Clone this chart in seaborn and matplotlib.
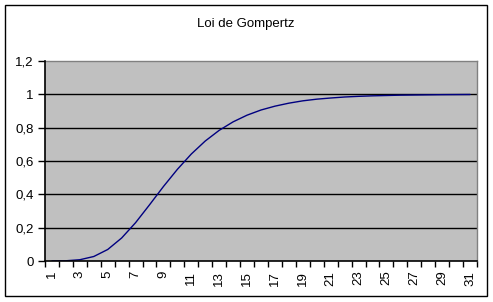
import matplotlib
matplotlib.use("Agg")
import matplotlib.pyplot as plt
from matplotlib.patches import Rectangle
import seaborn as sns
import pandas as pd

categories = list(range(1, 32))
values = [0.0001, 0.0014, 0.0076, 0.027, 0.069, 0.138, 0.230, 0.337, 0.447, 0.550,
          0.642, 0.720, 0.784, 0.835, 0.875, 0.906, 0.929, 0.947, 0.961, 0.971,
          0.978, 0.984, 0.988, 0.991, 0.993, 0.995, 0.996, 0.997, 0.998, 0.9985, 0.999]
y_ticks = [0, 0.2, 0.4, 0.6, 0.8, 1.0, 1.2]
y_labels = ["0", "0,2", "0,4", "0,6", "0,8", "1", "1,2"]
x_labels = [str(c) if c % 2 == 1 else "" for c in categories]
title = "Loi de Gompertz"

sns.set_theme(style="white")
plt.rcParams['font.family'] = ['Liberation Sans', 'DejaVu Sans']

W, H = 493, 302
fig = plt.figure(figsize=(W / 100, H / 100), dpi=100)
ax = fig.add_axes([45 / W, 1 - 261 / H, (477 - 45) / W, (261 - 61) / H])
ax.set_facecolor("#C0C0C0")

df = pd.DataFrame({"x": categories, "y": values})

for yv in y_ticks[1:-1]:
    ax.axhline(yv, color="black", lw=1.0, zorder=1)

sns.lineplot(data=df, x="x", y="y", ax=ax, color="#000080", lw=1.0, zorder=3)

ax.set_xlim(0.5, 31.5)
ax.set_ylim(0, 1.2)
ax.set_xlabel("")
ax.set_ylabel("")

ax.set_yticks(y_ticks)
ax.set_yticklabels(y_labels, fontsize=9.5, color="black")
ax.tick_params(axis="y", which="major", direction="out", length=5, width=1,
               color="black", left=True, pad=3)

ax.set_xticks(categories)
ax.set_xticklabels(x_labels, rotation=90, fontsize=9.5, color="black")
ax.set_xticks([c + 0.5 for c in [0] + categories], minor=True)
ax.tick_params(axis="x", which="major", length=0, pad=7, bottom=True)
ax.tick_params(axis="x", which="minor", direction="out", length=4, width=1,
               color="black", bottom=True)

for s in ["left", "bottom"]:
    ax.spines[s].set_color("black")
    ax.spines[s].set_linewidth(1.2)
    ax.spines[s].set_zorder(4)
for s in ["top", "right"]:
    ax.spines[s].set_visible(True)
    ax.spines[s].set_color("#808080")
    ax.spines[s].set_linewidth(1.0)

fig.text(246 / W, 1 - 24 / H, title, ha="center", va="center", fontsize=9.5, color="black")

fig.patches.append(Rectangle((5 / W, 1 - 296 / H), (487 - 5) / W, (296 - 5) / H,
                             transform=fig.transFigure, fill=False, edgecolor="black",
                             lw=1.0))

fig.savefig("out.png", dpi=100, facecolor="white")
